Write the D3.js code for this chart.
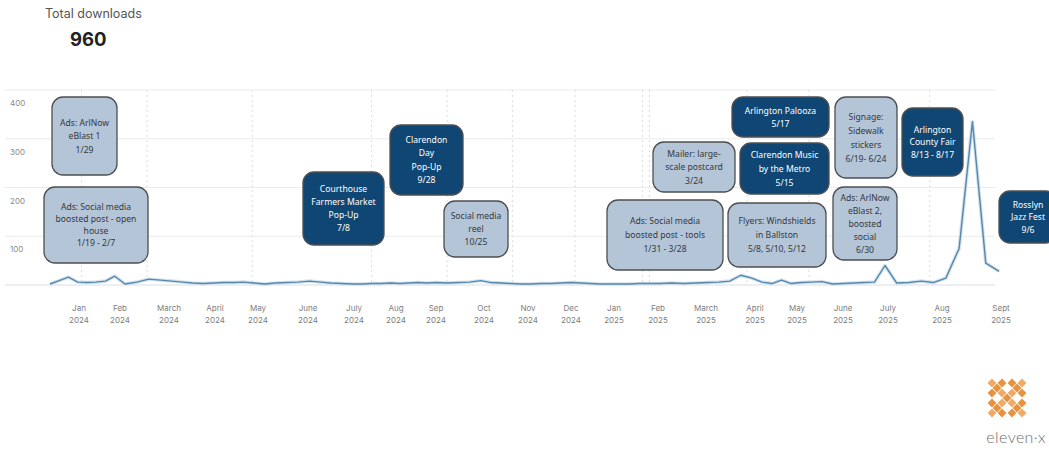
<!DOCTYPE html>
<html>
<head>
<meta charset="utf-8">
<script src="https://cdn.jsdelivr.net/npm/d3@7"></script>
<style>
  html, body { margin: 0; padding: 0; background: #ffffff; }
  svg { display: block; }
</style>
</head>
<body>
<svg id="chart" width="1049" height="452"></svg>
<script>
// ---- data -------------------------------------------------------------
const totalDownloads = 960;

// Weekly downloads, one value per week, first week starting Sunday 10 Dec 2023
const firstWeek = "2023-12-10";
const weeklyDownloads = [
  2, 9, 16, 6, 5, 6, 8, 18, 2, 6, 12, 10, 8, 6, 4, 3, 4, 5, 5, 6,
  4, 2, 4, 5, 6, 8, 6, 4, 3, 2, 2, 3, 3, 4, 3, 4, 5, 4, 5, 4,
  5, 6, 9, 5, 4, 3, 2, 2, 3, 3, 4, 5, 4, 3, 2, 2, 2, 2, 3, 3,
  3, 4, 3, 4, 5, 6, 8, 20, 14, 6, 3, 10, 3, 5, 6, 7, 2, 3, 4, 5,
  6, 40, 4, 5, 8, 5, 14, 75, 335, 45, 28
];

// Month labels under the time axis
const monthStarts = [
  "2024-01-01", "2024-02-01", "2024-03-01", "2024-04-01", "2024-05-01", "2024-06-01",
  "2024-07-01", "2024-08-01", "2024-09-01", "2024-10-01", "2024-11-01", "2024-12-01",
  "2025-01-01", "2025-02-01", "2025-03-01", "2025-04-01", "2025-05-01", "2025-06-01",
  "2025-07-01", "2025-08-01", "2025-09-01"
];
const monthNames = [
  "Jan", "Feb", "March", "April", "May", "June", "July", "Aug", "Sep", "Oct", "Nov", "Dec",
  "Jan", "Feb", "March", "April", "May", "June", "July", "Aug", "Sept"
];

// Value axis
const yTicks = [0, 100, 200, 300, 400];

// Dotted reference dates inside the plot
const markerDates = [
  "2024-01-03", "2024-02-17", "2024-04-27", "2024-07-14", "2024-09-08", "2024-10-21",
  "2024-12-04", "2025-01-21", "2025-01-26", "2025-03-27", "2025-05-09", "2025-07-25"
];

// Outreach activities: text lines and kind (paid/print = "light", in-person event = "dark")
const activityText = [
  ["Ads: ArlNow", "eBlast 1", "1/29"],
  ["Ads: Social media", "boosted post - open", "house", "1/19 - 2/7"],
  ["Courthouse", "Farmers Market", "Pop-Up", "7/8"],
  ["Clarendon", "Day", "Pop-Up", "9/28"],
  ["Social media", "reel", "10/25"],
  ["Ads: Social media", "boosted post - tools", "1/31 - 3/28"],
  ["Mailer: large-", "scale postcard", "3/24"],
  ["Arlington Palooza", "5/17"],
  ["Clarendon Music", "by the Metro", "5/15"],
  ["Flyers: Windshields", "in Ballston", "5/8, 5/10, 5/12"],
  ["Signage:", "Sidewalk", "stickers", "6/19- 6/24"],
  ["Ads: ArlNow", "eBlast 2,", "boosted", "social", "6/30"],
  ["Arlington", "County Fair", "8/13 - 8/17"],
  ["Rosslyn", "Jazz Fest", "9/6"]
];
const activityKind = [
  "light", "light", "dark", "dark", "light", "light", "light",
  "dark", "dark", "light", "light", "light", "dark", "dark"
];

// ---- layout -----------------------------------------------------------
const plot = { left: 5, right: 995, top: 90, bottom: 285 };
// horizontal position of each month label
const monthX = [79, 120, 169, 215, 258, 308, 354, 396, 436, 484, 528, 571,
                614, 658, 706, 755, 797, 843, 888, 942, 1001];
// callout boxes: x, y, width, height, line spacing
const boxLayout = [
  [52, 97, 65, 78, 13.5],
  [44, 187, 104, 76, 11.8],
  [303, 172, 81, 73, 13.3],
  [390, 125, 73, 70, 13.5],
  [444, 201, 64, 56, 13],
  [607, 200, 116, 70, 14],
  [653, 142, 82, 50, 13.5],
  [732, 97, 97, 40, 13],
  [740, 143, 89, 51, 14],
  [728, 203, 98, 64, 14],
  [835, 97, 62, 81, 14],
  [833, 187, 64, 73, 13],
  [902, 108, 61, 68, 12.5],
  [999, 191, 58, 52, 12.5]
];
const palette = {
  light: { fill: "#b4c5d8", text: "#34383d" },
  dark:  { fill: "#0f4673", text: "#ffffff" }
};

const svg = d3.select("#chart");
const parse = d3.utcParse("%Y-%m-%d");

const x = d3.scaleUtc()
  .domain(monthStarts.map(parse))
  .range(monthX);

const y = d3.scaleLinear()
  .domain([0, 400])
  .range([plot.bottom, plot.top]);

// ---- header -----------------------------------------------------------
svg.append("text")
  .attr("x", 45).attr("y", 18)
  .attr("font-family", "Inter, 'Noto Sans', sans-serif")
  .attr("font-size", 12.5)
  .attr("fill", "#555")
  .text("Total downloads");

svg.append("text")
  .attr("x", 70).attr("y", 45.5)
  .attr("font-family", "Inter, 'Noto Sans', sans-serif")
  .attr("font-size", 18.5)
  .attr("font-weight", 700)
  .attr("fill", "#222")
  .text(totalDownloads);

// ---- grid -------------------------------------------------------------
const grid = svg.append("g");
grid.selectAll("line.h")
  .data(yTicks)
  .join("line")
  .attr("class", "h")
  .attr("x1", plot.left).attr("x2", plot.right)
  .attr("y1", d => y(d)).attr("y2", d => y(d))
  .attr("stroke", d => d === 0 ? "#d9dde2" : "#ebebeb")
  .attr("stroke-width", 1);

grid.selectAll("line.v")
  .data(markerDates.map(parse))
  .join("line")
  .attr("class", "v")
  .attr("x1", d => x(d)).attr("x2", d => x(d))
  .attr("y1", plot.top).attr("y2", plot.bottom)
  .attr("stroke", "#dcdcdc")
  .attr("stroke-width", 1)
  .attr("stroke-dasharray", "2,3");

grid.selectAll("text.ylab")
  .data(yTicks.filter(d => d > 0))
  .join("text")
  .attr("class", "ylab")
  .attr("x", 10)
  .attr("y", d => y(d) + 16)
  .attr("font-family", "Inter, 'Noto Sans', sans-serif")
  .attr("font-size", 8)
  .attr("fill", "#8a8a8a")
  .text(d => d);

// ---- month axis -------------------------------------------------------
const months = monthStarts.map((d, i) => ({ date: parse(d), name: monthNames[i] }));
const mLab = svg.append("g").selectAll("text")
  .data(months)
  .join("text")
  .attr("x", d => x(d.date))
  .attr("text-anchor", "middle")
  .attr("font-family", "Inter, 'Noto Sans', sans-serif")
  .attr("font-size", 8)
  .attr("fill", "#7d7d7d");
mLab.append("tspan").attr("x", d => x(d.date)).attr("y", 311).text(d => d.name);
mLab.append("tspan").attr("x", d => x(d.date)).attr("y", 323).text(d => d3.utcFormat("%Y")(d.date));

// ---- downloads line ---------------------------------------------------
const weeks = weeklyDownloads.map((v, i) => ({
  date: d3.utcWeek.offset(parse(firstWeek), i),
  value: v
}));

const line = d3.line()
  .x(d => x(d.date))
  .y(d => y(d.value));

svg.append("path")
  .datum(weeks)
  .attr("d", line)
  .attr("fill", "none")
  .attr("stroke", "#d3e2ee")
  .attr("stroke-width", 3.5)
  .attr("stroke-linejoin", "round");

svg.append("path")
  .datum(weeks)
  .attr("d", line)
  .attr("fill", "none")
  .attr("stroke", "#5589ad")
  .attr("stroke-width", 1.4)
  .attr("stroke-linejoin", "round");

// ---- callouts ---------------------------------------------------------
const callouts = activityText.map((lines, i) => ({
  lines, kind: activityKind[i], box: boxLayout[i]
}));

const cg = svg.append("g").selectAll("g")
  .data(callouts)
  .join("g");

cg.append("rect")
  .attr("x", d => d.box[0]).attr("y", d => d.box[1])
  .attr("width", d => d.box[2]).attr("height", d => d.box[3])
  .attr("rx", 11).attr("ry", 11)
  .attr("fill", d => palette[d.kind].fill)
  .attr("stroke", "#4d4f52")
  .attr("stroke-width", 1.3);

cg.each(function(d) {
  const [bx, by, bw, bh, lh] = d.box;
  const n = d.lines.length;
  const cx = bx + bw / 2;
  const firstY = by + bh / 2 - (n - 1) * lh / 2 + 3;
  d3.select(this).append("text")
    .attr("text-anchor", "middle")
    .attr("font-family", "'Noto Sans', Lato, sans-serif")
    .attr("font-size", 8.6)
    .attr("fill", palette[d.kind].text)
    .selectAll("tspan")
    .data(d.lines)
    .join("tspan")
    .attr("x", cx)
    .attr("y", (t, j) => firstY + j * lh)
    .text(t => t);
});

// ---- eleven-x mark: a lattice of diamonds forming an X -----------------
const logo = svg.append("g").attr("transform", "translate(1007,398)");
const cells = [];
for (let i = -3; i <= 3; i++) {
  for (let j = -3; j <= 3; j++) {
    if ((i + j) % 2 !== 0) continue;
    const ai = Math.abs(i), aj = Math.abs(j);
    const onDiagonal = ai === aj;
    const flare = (ai === 3 && aj === 1) || (ai === 1 && aj === 3);
    if (onDiagonal || flare) cells.push({ i, j });
  }
}
const step = 5;
logo.selectAll("path")
  .data(cells)
  .join("path")
  .attr("transform", d => `translate(${d.i * step},${d.j * step})`)
  .attr("d", "M0,-4.4L4.4,0L0,4.4L-4.4,0Z")
  .attr("fill", d => (Math.abs(d.i) + Math.abs(d.j)) % 4 === 0 ? "#e8913e" : "#efab66");

svg.append("text")
  .attr("x", 1046).attr("y", 443)
  .attr("text-anchor", "end")
  .attr("font-family", "Lato, 'Noto Sans', sans-serif")
  .attr("font-size", 16)
  .attr("font-weight", 300)
  .attr("letter-spacing", 0.4)
  .attr("fill", "#6f6f6f")
  .text("eleven\u00b7x");
</script>
</body>
</html>
